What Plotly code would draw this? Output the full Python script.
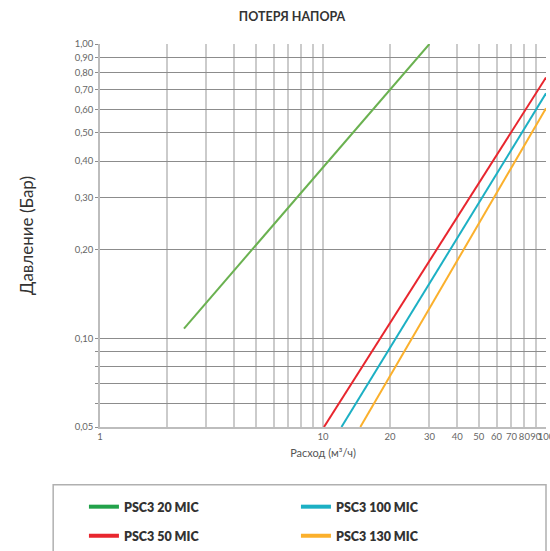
import plotly.graph_objects as go

# ---- data ----
series_names = ["PSC3 20 MIC", "PSC3 50 MIC", "PSC3 100 MIC", "PSC3 130 MIC"]
flow_20 = [2.38, 30.0]
pres_20 = [0.108, 1.0]
flow_50 = [10.1, 100.0]
pres_50 = [0.05, 0.77]
flow_100 = [12.1, 100.0]
pres_100 = [0.05, 0.68]
flow_130 = [14.7, 100.0]
pres_130 = [0.05, 0.605]

line_colors = ["#6ab150", "#e8262e", "#1cb0c4", "#fbb02c"]
legend_colors = ["#22a24a", "#e8262e", "#1cb0c4", "#fbb02c"]
legend_groups = ["legend", "legend2", "legend", "legend2"]

x_tickvals = [1, 2, 3, 4, 5, 6, 7, 8, 9, 10, 20, 30, 40, 50, 60, 70, 80, 90, 100]
x_ticktext = ["1", "", "", "", "", "", "", "", "", "10", "20", "30", "40", "50",
              "60", "70", "80", "90", "100"]
y_tickvals = [0.05, 0.06, 0.07, 0.08, 0.09, 0.10, 0.20, 0.30, 0.40, 0.50,
              0.60, 0.70, 0.80, 0.90, 1.00]
y_ticktext = ["0,05", "", "", "", "", "0,10", "0,20", "0,30", "0,40", "0,50",
              "0,60", "0,70", "0,80", "0,90", "1,00"]

flows = [flow_20, flow_50, flow_100, flow_130]
pressures = [pres_20, pres_50, pres_100, pres_130]

FONT = "Lato"

fig = go.Figure()
for name, xs, ys, c in zip(series_names, flows, pressures, line_colors):
    fig.add_trace(go.Scatter(x=xs, y=ys, mode="lines", name=name,
                             line=dict(color=c, width=2), showlegend=False,
                             hoverinfo="skip"))
# legend entries
for name, c, lg in zip(series_names, legend_colors, legend_groups):
    fig.add_trace(go.Scatter(x=[None], y=[None], mode="lines", name=name,
                             line=dict(color=c, width=4), legend=lg,
                             showlegend=True))

legend_common = dict(orientation="h", xanchor="left", yanchor="middle",
                     entrywidth=167, entrywidthmode="pixels", traceorder="normal",
                     font=dict(size=12.5, color="#333333", family=FONT, weight=800),
                     bgcolor="rgba(0,0,0,0)", borderwidth=0, itemwidth=30)

fig.update_layout(
    width=550, height=551,
    margin=dict(l=100, r=4, t=44, b=124, autoexpand=False),
    paper_bgcolor="white", plot_bgcolor="white",
    font=dict(family=FONT, color="#555555"),
    title=dict(text="<b>ПОТЕРЯ НАПОРА</b>", x=0.531, xanchor="center",
               xref="container", yref="container", y=0.969, yanchor="middle",
               font=dict(size=12.5, color="#333333", family=FONT)),
    xaxis=dict(type="log", range=[0, 2], tickvals=x_tickvals, ticktext=x_ticktext,
               tickangle=0, ticklabeloverflow="allow",
               showgrid=True, gridcolor="#cbcbcb", gridwidth=1.5,
               showline=True, linecolor="#bdbdbd", linewidth=1.5,
               zeroline=False, ticks="", tickfont=dict(size=9.5, color="#666666"),
               title=dict(text="Расход (м³/ч)", standoff=8,
                          font=dict(size=11, color="#555555"))),
    yaxis=dict(type="log", range=[-1.30103, 0], tickvals=y_tickvals, ticktext=y_ticktext,
               showgrid=True, gridcolor="#8c8c8c", gridwidth=1,
               showline=True, linecolor="#bdbdbd", linewidth=1.5,
               zeroline=False, ticks="outside", ticklen=3, tickcolor="#8c8c8c",
               tickfont=dict(size=9.5, color="#666666"),
               title=dict(text="Давление (Бар)", standoff=37,
                          font=dict(size=17, color="#333333"))),
    legend=dict(legend_common, x=-0.036, y=-0.209),
    legend2=dict(legend_common, x=-0.036, y=-0.285),
    shapes=[dict(type="rect", xref="paper", yref="paper",
                 x0=-0.105, x1=1.0, y0=-0.151, y1=-0.40,
                 line=dict(color="#b0b0b0", width=1.5), fillcolor="rgba(0,0,0,0)",
                 layer="below")],
)

fig.write_html("out.html")
